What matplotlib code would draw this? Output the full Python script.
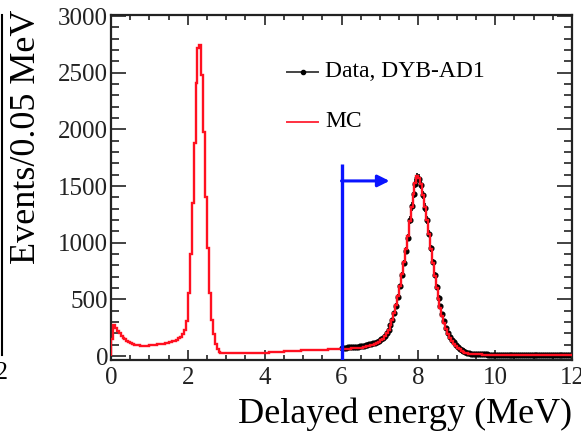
import numpy as np
import matplotlib
matplotlib.use("Agg")
import matplotlib.pyplot as plt
from matplotlib.lines import Line2D
from matplotlib.ticker import MultipleLocator

plt.rcParams['font.family'] = ['Liberation Serif', 'DejaVu Serif']

# MC histogram, 0.05 MeV bins from 0 to 12 MeV
mc_0_2 = [150, 270, 250, 225, 200, 180, 162, 147, 133, 122,
          113, 106, 100, 96, 93, 91, 90, 90, 91, 92,
          94, 96, 98, 100, 102, 104, 107, 110, 113, 116,
          120, 124, 129, 135, 144, 156, 172, 195, 230, 310]
mc_2_3 = [560, 900, 1350, 1880, 2410, 2720, 2745, 2480, 1980, 1400,
          950, 560, 320, 190, 110, 60, 35, 27, 24, 23]
mc_3_6 = [23, 23, 24, 24, 24, 25, 25, 25, 26, 26, 26, 27, 27, 27, 28, 28, 28, 29, 29, 30,
          30, 31, 32, 33, 34, 35, 36, 37, 38, 39, 40, 41, 42, 43, 44, 45, 46, 47, 48, 49,
          50, 50, 51, 52, 52, 53, 54, 54, 55, 55, 56, 57, 57, 58, 58, 59, 59, 60, 60, 61]
mc_6_12 = [62, 63, 64, 65, 66, 67, 68, 70, 71, 73, 75, 78, 81, 85, 89, 94, 100, 107, 115, 125,
           138, 154, 174, 200, 232, 272, 322, 382, 452, 532, 622, 722, 828, 940, 1055, 1190, 1315, 1430, 1525, 1585,
           1575, 1515, 1425, 1315, 1200, 1075, 945, 820, 705, 600, 505, 425, 355, 295, 240, 195, 160, 132, 108, 88,
           72, 58, 47, 38, 31, 26, 22, 19, 17, 16, 15, 14, 14, 13, 13, 13, 13, 12, 12, 12,
           12, 12, 12, 12, 12, 12, 11, 11, 11, 11, 11, 11, 11, 11, 11, 11, 11, 10, 10, 10,
           10, 10, 10, 10, 10, 10, 10, 10, 10, 10, 10, 10, 10, 10, 10, 10, 10, 10, 10, 10]
mc = mc_0_2 + mc_2_3 + mc_3_6 + mc_6_12

# Data (DYB-AD1), 0.05 MeV bins from 6 to 12 MeV
data = [72, 74, 75, 76, 77, 79, 80, 82, 83, 85, 88, 90, 94, 98, 102, 106, 112, 118, 126, 135,
        146, 160, 178, 202, 232, 270, 318, 376, 445, 525, 615, 715, 820, 930, 1045, 1200, 1320, 1430, 1520, 1575,
        1565, 1510, 1420, 1310, 1200, 1080, 950, 830, 715, 610, 515, 440, 370, 310, 250, 205, 170, 145, 120, 100,
        82, 66, 52, 42, 34, 28, 24, 21, 19, 17, 16, 15, 15, 14, 14, 14, 13, 13, 13, 13,
        13, 13, 12, 12, 12, 12, 12, 12, 11, 11, 11, 11, 11, 11, 11, 10, 10, 10, 10, 10,
        10, 10, 10, 10, 10, 10, 10, 10, 10, 10, 10, 10, 10, 10, 10, 10, 10, 10, 10, 10]

edges = np.linspace(0, 12, len(mc) + 1)
data_x = 6 + 0.05 * (np.arange(len(data)) + 0.5)
data_y = np.array(data, dtype=float)

fig = plt.figure(figsize=(5.81, 4.33), dpi=100)
ax = fig.add_axes([111/581, 73/433, 461/581, 345/433])

ax.errorbar(data_x, data_y, yerr=np.sqrt(data_y), fmt='o', color='black',
            ms=3.4, elinewidth=1.2, capsize=0, zorder=2)
ax.stairs(mc, edges, color='#ff1020', lw=1.7, zorder=3)

# energy cut at 6 MeV
ax.plot([6, 6], [-35, 1690], color='#0a14ff', lw=2.4, zorder=4, solid_capstyle='butt')
ax.annotate('', xy=(7.25, 1545), xytext=(6.0, 1545),
            arrowprops=dict(arrowstyle='-|>,head_length=0.7,head_width=0.35',
                            color='#0a14ff', lw=2.2, shrinkA=0, shrinkB=0), zorder=4)

ax.set_xlim(0, 12)
ax.set_ylim(-35, 3009)
ax.xaxis.set_major_locator(MultipleLocator(2))
ax.xaxis.set_minor_locator(MultipleLocator(0.5))
ax.yaxis.set_major_locator(MultipleLocator(500))
ax.yaxis.set_minor_locator(MultipleLocator(100))
ax.tick_params(axis='both', which='both', direction='in', top=True, right=True,
               labelsize=18, width=1.2, colors='#222222')
ax.tick_params(axis='x', which='major', length=7, pad=5)
ax.tick_params(axis='x', which='minor', length=3.6)
ax.tick_params(axis='y', which='major', length=11, pad=2)
ax.tick_params(axis='y', which='minor', length=5.8)
for s in ax.spines.values():
    s.set_linewidth(1.6)
    s.set_color('#222222')

# legend drawn by hand, ROOT style
ax.plot([0.382, 0.449], [0.835, 0.835], transform=ax.transAxes, color='#444444', lw=1.4)
ax.plot([0.4155], [0.835], 'o', transform=ax.transAxes, color='black', ms=3)
ax.text(0.464, 0.835, 'Data, DYB-AD1', transform=ax.transAxes, fontsize=17, va='center')
ax.plot([0.382, 0.449], [0.690, 0.690], transform=ax.transAxes, color='#ff3040', lw=1.4)
ax.text(0.464, 0.690, 'MC', transform=ax.transAxes, fontsize=17, va='center')

fig.text(572/581, 1 - 423/433, 'Delayed energy (MeV)', fontsize=26, ha='right', va='baseline')
fig.text(27/581, 1 - 10/433, 'Events/0.05 MeV', fontsize=26, rotation=90, ha='center', va='top')

# edge of the neighbouring panel (cut off in the original too)
fig.add_artist(Line2D([2/581, 2/581], [1 - 355/433, 1 - 15/433], color='black', lw=1.5))
fig.text(9/581, 1 - 373/433, '12', fontsize=18, ha='right', va='center')

fig.savefig('out.png', dpi=100)
